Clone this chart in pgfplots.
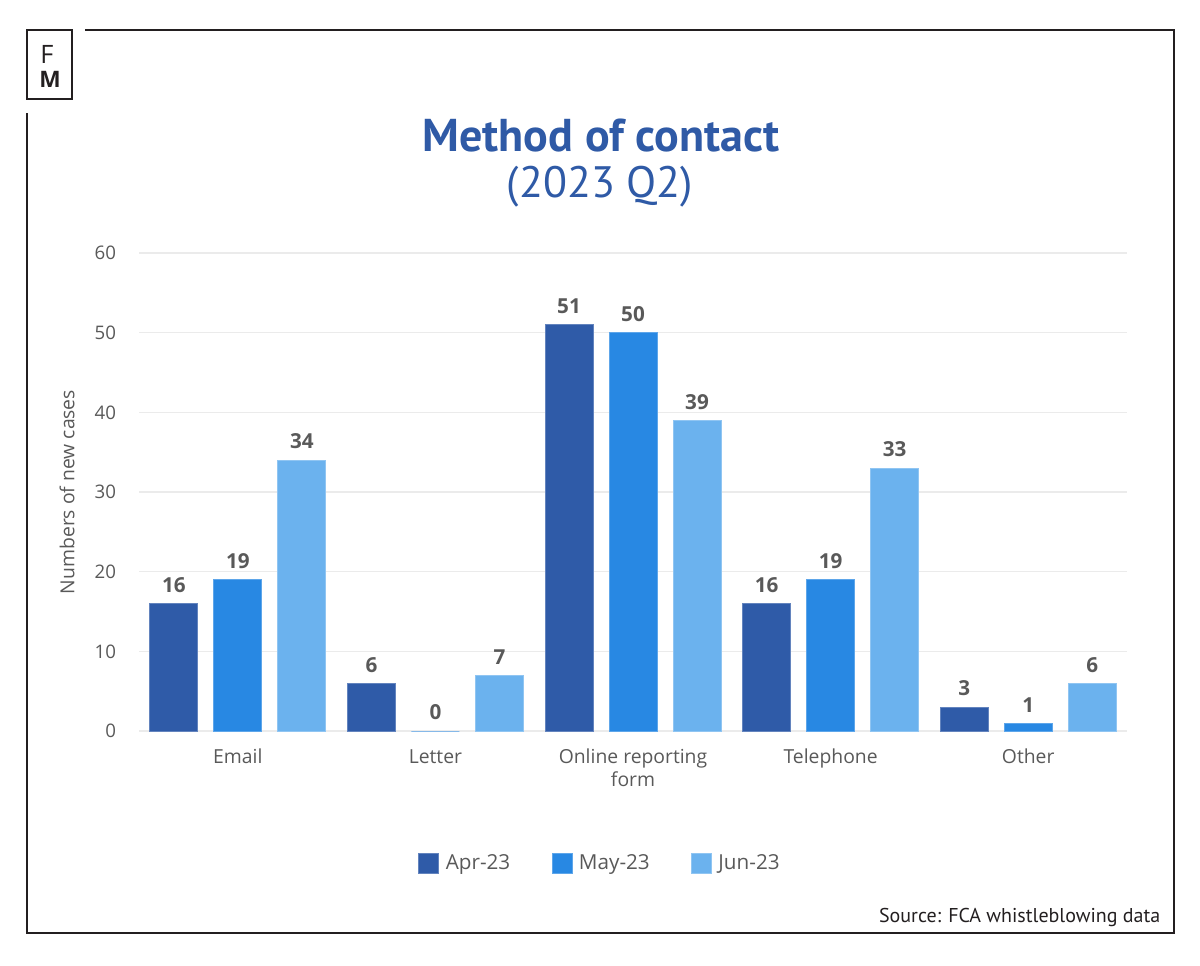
\documentclass[border=0pt]{standalone}
\usepackage{pgfplots}
\pgfplotsset{compat=1.18}
\usepackage{fontspec}
\setmainfont{Open Sans}
\newfontfamily\titlefont{PT Sans}
\definecolor{apr}{HTML}{2F5BA8}
\definecolor{may}{HTML}{2888E3}
\definecolor{jun}{HTML}{6BB2EE}
\definecolor{txt}{HTML}{595959}
\definecolor{ttl}{HTML}{2F5AA6}
\definecolor{gridc}{HTML}{EBEBEB}
\definecolor{frame}{HTML}{231F20}

\begin{document}
\begin{tikzpicture}
\begin{scope}[x=0.75pt,y=0.75pt]
\useasboundingbox (0,0) rectangle (1200,965);
% outer frame, open at the logo corner
\draw[frame,line width=1.6pt] (85,935) -- (1174,935) -- (1174,32) -- (27,32) -- (27,852);
\draw[frame,line width=1.6pt] (27,935) rectangle (72,866);
\node[font=\fontsize{19}{19}\selectfont,text=frame] at (47,911) {F};
\node[font=\fontsize{17}{17}\selectfont\bfseries,text=frame] at (50,886) {M};
% titles
\node[anchor=base,text=ttl,font=\titlefont\fontsize{34.5}{34.5}\selectfont\bfseries] at (601,813) {Method of contact};
\node[anchor=base,text=ttl,font=\titlefont\fontsize{33}{33}\selectfont] at (600,767) {(2023 Q2)};
\node[anchor=base east,text=frame,font=\titlefont\fontsize{15}{15}\selectfont] at (1165,43) {Source: FCA whistleblowing data};
\end{scope}

\begin{axis}[
    at={(104.25pt,175.5pt)}, anchor=south west,
    scale only axis, width=741pt, height=358.5pt,
    xmin=-0.5, xmax=4.5, ymin=0, ymax=60,
    xtick={0,...,4},
    xticklabels={Email,Letter,{Online reporting\\form},Telephone,Other},
    ytick={0,10,...,60},
    axis line style={draw=none},
    major tick length=0pt,
    ymajorgrids=true,
    grid style={gridc,line width=0.9pt},
    xticklabel style={anchor=north,inner sep=0pt,yshift=-13.5pt,align=center,
        text=txt,font=\fontsize{14.5}{17}\selectfont},
    yticklabel style={anchor=east,inner sep=0pt,xshift=-17pt,
        text=txt,font=\fontsize{14}{14}\selectfont},
    /pgf/number format/assume math mode=true,
    ylabel={Numbers of new cases},
    ylabel style={at={(axis description cs:-0.0729,0.5)},anchor=center,
        text=txt,font=\fontsize{14.5}{14.5}\selectfont},
    ybar, bar width=36pt,
    nodes near coords,
    every node near coord/.append style={anchor=south,inner sep=0pt,yshift=8pt,
        text=txt,font=\fontsize{15.5}{15.5}\selectfont\bfseries},
    legend columns=3,
    legend style={at={(0.467,-0.276)},anchor=center,draw=none,fill=none,
        text=txt,font=\fontsize{15.5}{15.5}\selectfont,
        /tikz/every odd column/.append style={column sep=3pt},
        /tikz/every even column/.append style={column sep=29pt}},
    legend image code/.code={\fill[#1] (0pt,-7.5pt) rectangle (15pt,7.5pt);},
]
\addplot[fill=apr,draw=apr!75!white,line width=0.5pt,bar shift=-48pt]
    coordinates {(0,16) (1,6) (2,51) (3,16) (4,3)};
\addplot[fill=may,draw=may!75!white,line width=0.5pt,bar shift=0pt]
    coordinates {(0,19) (1,0) (2,50) (3,19) (4,1)};
\addplot[fill=jun,draw=jun!75!white,line width=0.5pt,bar shift=48pt]
    coordinates {(0,34) (1,7) (2,39) (3,33) (4,6)};
\legend{Apr-23,May-23,Jun-23}
\end{axis}
\end{tikzpicture}
\end{document}
